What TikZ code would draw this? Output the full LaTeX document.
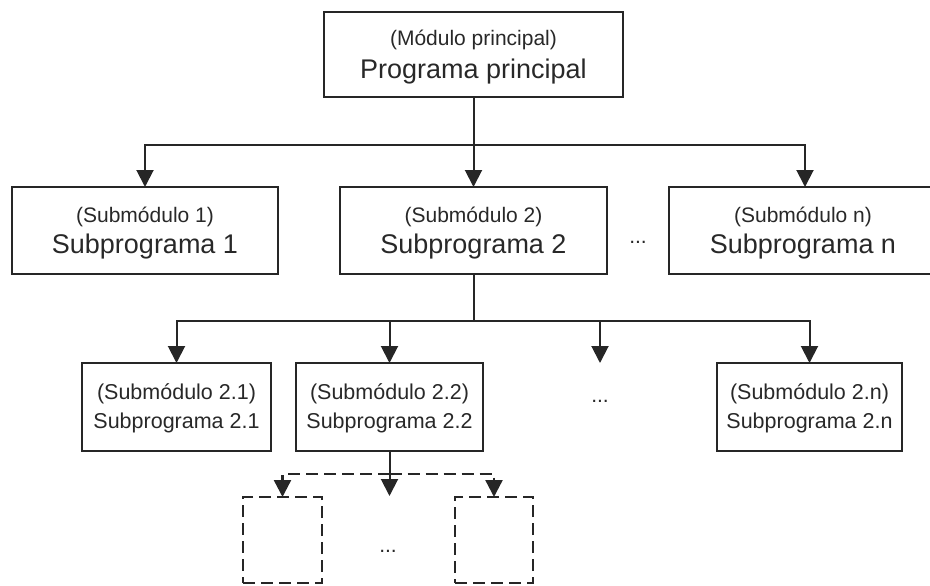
\documentclass[tikz,border=0pt]{standalone}
\usepackage{fontspec}
\setmainfont{Liberation Sans}
\usetikzlibrary{arrows.meta}
\definecolor{txt}{RGB}{40,40,40}
\begin{document}
\begin{tikzpicture}[x=1pt,y=-1pt,
  box/.style={draw=black!85, line width=2.2pt, minimum width=#1, inner sep=0pt, outer sep=0pt},
  dbox/.style={draw=black!85, line width=2.4pt, dash pattern=on 12pt off 6pt, minimum width=#1, minimum height=86pt, inner sep=0pt, outer sep=0pt},
  arr/.style={draw=black!85, line width=2pt, -{Triangle[width=17pt,length=17pt]}},
  darr/.style={draw=black!85, line width=2.4pt, dash pattern=on 12pt off 6pt, -{Triangle[width=17pt,length=17pt]}},
  small/.style={text=txt, anchor=base, inner sep=0pt, font=\fontsize{21}{25}\selectfont},
  big/.style={text=txt, anchor=base, inner sep=0pt, font=\fontsize{27}{32}\selectfont},
  mid/.style={text=txt, anchor=base, inner sep=0pt, font=\fontsize{21.5}{25}\selectfont}]
\path[use as bounding box, clip] (0,0) rectangle (930,586);

% level 1
\node[box=299pt, minimum height=85pt] (top) at (473.5,54.5) {};
\node[small] (topa) at (473.5,45.5) {(Módulo principal)};
\node[big] (topb) at (473.5,79) {Programa principal};

% level 2
\node[box=266pt, minimum height=87pt] (s1) at (145,230.5) {};
\node[box=267pt, minimum height=87pt] (s2) at (473.5,230.5) {};
\node[box=272pt, minimum height=87pt] (sn) at (805,230.5) {};
\node[small] (s1a) at (145,222.5) {(Submódulo 1)};
\node[big] (s1b) at (145,253) {Subprograma 1};
\node[small] (s2a) at (473.5,222.5) {(Submódulo 2)};
\node[big] (s2b) at (473.5,253) {Subprograma 2};
\node[small] (sna) at (803,222.5) {(Submódulo n)};
\node[big] (snb) at (803,253) {Subprograma n};
\node[small] (dots2) at (638,243) {...};

\coordinate (J1) at (473.5,145);
\draw[arr] (top.south) -- (s2.north);
\draw[arr] (J1) -| (s1.north);
\draw[arr] (J1) -| (sn.north);

% level 3
\node[box=189pt, minimum height=88pt] (b21) at (176.5,407) {};
\node[box=187pt, minimum height=88pt] (b22) at (389.5,407) {};
\node[box=185pt, minimum height=88pt] (b2n) at (809.5,407) {};
\node[mid] (b21a) at (176.5,399.5) {(Submódulo 2.1)};
\node[mid] (b21b) at (176.5,428) {Subprograma 2.1};
\node[mid] (b22a) at (389.5,399.5) {(Submódulo 2.2)};
\node[mid] (b22b) at (389.5,428) {Subprograma 2.2};
\node[mid] (b2na) at (809.5,399.5) {(Submódulo 2.n)};
\node[mid] (b2nb) at (809.5,428) {Subprograma 2.n};
\node[small] (dots3) at (600,402) {...};

\coordinate (J2) at (473.5,321);
\coordinate (e3) at (600,363);
\draw[draw=black!85, line width=2pt] (s2.south) -- (J2);
\draw[arr] (J2) -| (b21.north);
\draw[arr] (J2) -| (b22.north);
\draw[arr] (J2) -| (e3);
\draw[arr] (J2) -| (b2n.north);

% level 4
\node[dbox=79pt] (d1) at (282.5,540) {};
\node[dbox=78pt] (d2) at (494,540) {};
\node[small] (dots4) at (388,552) {...};

\coordinate (J3) at (389.5,474);
\coordinate (e4) at (389.5,496);
\draw[draw=black!85, line width=2pt] (b22.south) -- (J3);
\draw[darr] (J3) -| (d1.north);
\draw[darr] (J3) -| (d2.north);
\draw[arr] (J3) -- (e4);
\end{tikzpicture}
\end{document}
